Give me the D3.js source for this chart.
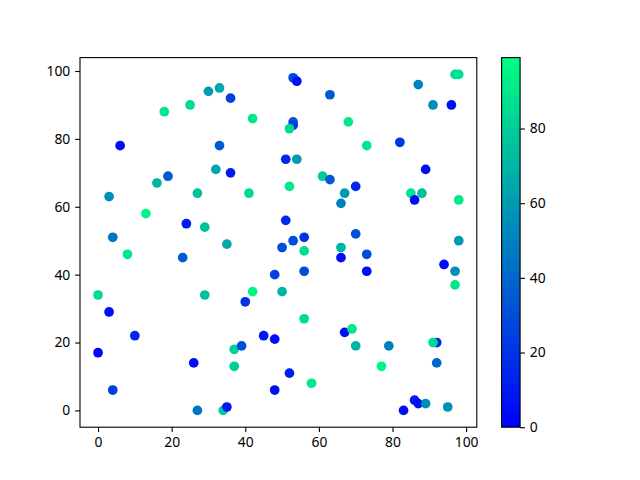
<!DOCTYPE html>
<html><head><meta charset="utf-8">
<script src="https://cdn.jsdelivr.net/npm/d3@7"></script>
<style>html,body{margin:0;padding:0;background:#fff;}svg{display:block;}</style>
</head><body><svg id="c" width="640" height="480"></svg>
<script>
const xs = [18,25,30,33,36,42,6,33,51,32,36,16,19,53,54,63,87,97,98,91,96,53,53,52,68,73,82,54,89,61,63,70,52,3,27,41,13,24,29,51,4,35,50,8,23,48,0,29,42,40,50,3,67,66,85,88,86,98,53,56,56,70,66,66,73,73,56,98,94,97,97,10,0,45,48,37,39,37,26,4,48,27,34,35,56,67,69,70,79,92,91,92,77,52,58,86,87,89,83,95];
const ys = [88,90,94,95,92,86,78,78,74,71,70,67,69,98,97,93,96,99,99,90,90,85,84,83,85,78,79,74,71,69,68,66,66,63,64,64,58,55,54,56,51,49,48,46,45,40,34,34,35,32,35,29,64,61,64,64,62,62,50,51,47,52,48,45,46,41,41,50,43,41,37,22,17,22,21,18,19,13,14,6,6,0,0,1,27,23,24,19,19,20,20,14,13,11,8,3,2,2,0,1];
const cs = [90,85,60,65,25,90,5,35,15,65,10,70,35,30,5,35,50,85,88,55,5,35,20,85,90,90,20,60,5,80,35,15,90,55,75,85,95,10,75,15,45,65,30,90,35,25,85,75,95,20,70,5,60,50,90,75,5,90,30,20,85,30,70,5,30,5,30,60,5,55,90,15,3,10,5,80,30,80,5,25,5,45,80,8,85,5,90,70,50,15,85,40,95,10,90,10,5,55,5,55];
const xTicks = [0,20,40,60,80,100];
const yTicks = [0,20,40,60,80,100];
const cTicks = [0,20,40,60,80];

const svg = d3.select("#c");
const L=80, R=476.8, T=57.6, B=427.2;
const pt = 100/72;
const x = d3.scaleLinear().domain([-4.9,102.9]).range([L,R]);
const y = d3.scaleLinear().domain([-4.95,103.95]).range([B,T]);
const cmin=0, cmax=99;
const winter = t => d3.rgb(0, 255*t, 255*(1-0.5*t)).toString();
const col = v => winter((v-cmin)/(cmax-cmin));
const font = "'Noto Sans', sans-serif";
const fs = 10*pt;

// points
svg.append("g").selectAll("circle").data(xs.map((d,i)=>({x:d,y:ys[i],c:cs[i]})))
  .join("circle").attr("cx",d=>x(d.x)).attr("cy",d=>y(d.y)).attr("r",3.5*pt)
  .attr("fill",d=>col(d.c));

// frame
svg.append("rect").attr("x",L).attr("y",T).attr("width",R-L).attr("height",B-T)
  .attr("fill","none").attr("stroke","#000").attr("stroke-width",0.8*pt);

function styleAxis(g){
  g.select(".domain").remove();
  g.selectAll(".tick line").attr("stroke","#000").attr("stroke-width",0.8*pt);
  g.selectAll(".tick text").attr("fill","#000").style("font-family",font).style("font-size",fs+"px");
}
svg.append("g").attr("transform",`translate(0,${B})`)
  .call(d3.axisBottom(x).tickValues(xTicks).tickSize(3.5*pt).tickPadding(3.5*pt).tickFormat(d3.format("d")))
  .call(styleAxis);
svg.append("g").attr("transform",`translate(${L},0)`)
  .call(d3.axisLeft(y).tickValues(yTicks).tickSize(3.5*pt).tickPadding(3.5*pt).tickFormat(d3.format("d")))
  .call(styleAxis);

// colorbar
const CL=501.6, CW=18.48;
const cy = d3.scaleLinear().domain([cmin,cmax]).range([B,T]);
const defs = svg.append("defs");
const grad = defs.append("linearGradient").attr("id","g").attr("x1","0").attr("y1","1").attr("x2","0").attr("y2","0");
d3.range(0,1.0001,0.1).forEach(t=>grad.append("stop").attr("offset",t).attr("stop-color",winter(t)));
svg.append("rect").attr("x",CL).attr("y",T).attr("width",CW).attr("height",B-T).attr("fill","url(#g)")
  .attr("stroke","#000").attr("stroke-width",0.8*pt);
svg.append("g").attr("transform",`translate(${CL+CW},0)`)
  .call(d3.axisRight(cy).tickValues(cTicks).tickSize(3.5*pt).tickPadding(3.5*pt).tickFormat(d3.format("d")))
  .call(styleAxis);
</script></body></html>
